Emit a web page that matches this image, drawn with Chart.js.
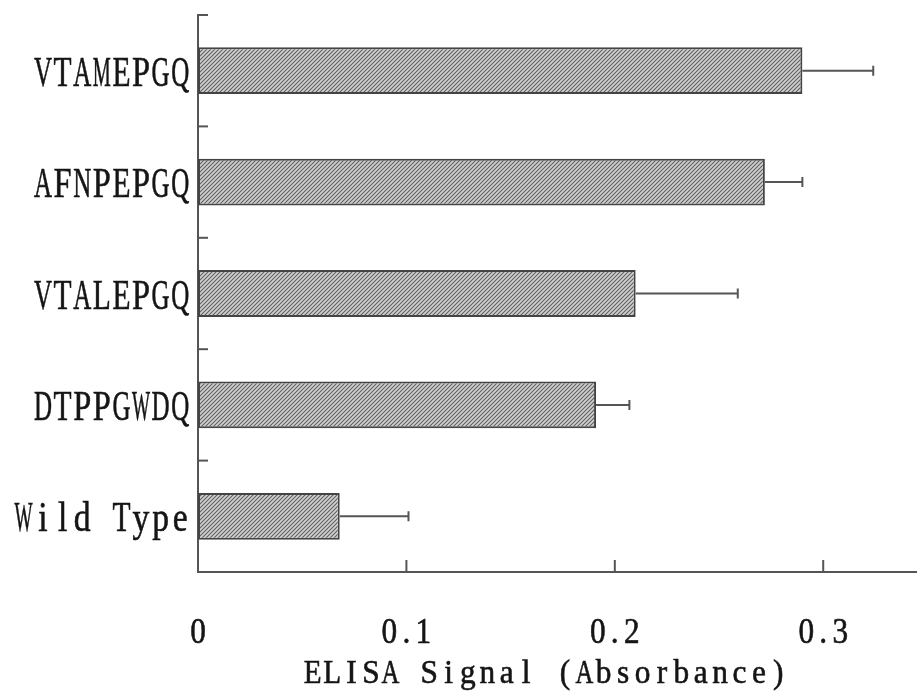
<!DOCTYPE html>
<html>
<head>
<meta charset="utf-8">
<script src="https://cdn.jsdelivr.net/npm/chart.js@4/dist/chart.umd.min.js"></script>
<style>
  html, body { margin: 0; padding: 0; background: #fff; }
  #wrap { width: 917px; height: 694px; }
</style>
</head>
<body>
<div id="wrap"><canvas id="elisaChart"></canvas></div>
<script>
const peptides = ["VTAMEPGQ", "AFNPEPGQ", "VTALEPGQ", "DTPPGWDQ", "Wild Type"];
const signal = [0.290, 0.272, 0.210, 0.191, 0.068];
const signalErr = [0.034, 0.018, 0.049, 0.016, 0.033];
const xTickValues = [0, 0.1, 0.2, 0.3];
const xTickLabels = ["0", "0.1", "0.2", "0.3"];
const axisTitle = "ELISA Signal (Absorbance)";

const axisColor = "#555";
const textColor = "#151515";
const serif = "'Liberation Serif', 'DejaVu Serif', serif";

// hatched fill like the printed figure
const makeHatch = () => {
  const c = document.createElement("canvas");
  c.width = 4; c.height = 4;
  const g = c.getContext("2d");
  g.fillStyle = "#d2d2d2";
  g.fillRect(0, 0, 4, 4);
  g.strokeStyle = "#5e5e5e";
  g.lineWidth = 1.1;
  g.beginPath();
  g.moveTo(0, 4); g.lineTo(4, 0);
  g.moveTo(-1, 1); g.lineTo(1, -1);
  g.moveTo(3, 5); g.lineTo(5, 3);
  g.stroke();
  return g.createPattern(c, "repeat");
};

// fixed-pitch, narrow serif text (the original uses a CJK font's half-width latin)
const drawMono = (ctx, text, x, baseline, align, cell, size, sx) => {
  const total = text.length * cell;
  const start = align === "right" ? x - total : align === "center" ? x - total / 2 : x;
  ctx.font = size + "px " + serif;
  ctx.fillStyle = textColor;
  ctx.strokeStyle = textColor;
  ctx.lineWidth = 0.6;
  ctx.textAlign = "center";
  ctx.textBaseline = "alphabetic";
  [...text].forEach((ch, i) => {
    const w = ctx.measureText(ch).width || 1;
    const k = Math.min(sx, (cell * 0.92) / w);
    ctx.save();
    ctx.translate(start + (i + 0.5) * cell, baseline);
    ctx.scale(k, 1);
    ctx.fillText(ch, 0, 0);
    ctx.strokeText(ch, 0, 0);
    ctx.restore();
  });
};

// inward tick marks, error bars and all texts
const extras = {
  id: "extras",
  afterDatasetsDraw(chart) {
    const { ctx, scales: { x, y } } = chart;
    ctx.save();
    ctx.strokeStyle = axisColor;
    ctx.lineWidth = 2;

    // error bars
    chart.getDatasetMeta(0).data.forEach((bar, i) => {
      const xEnd = x.getPixelForValue(signal[i] + signalErr[i]);
      ctx.beginPath();
      ctx.moveTo(bar.x, bar.y);
      ctx.lineTo(xEnd, bar.y);
      ctx.moveTo(xEnd, bar.y - 5);
      ctx.lineTo(xEnd, bar.y + 5);
      ctx.stroke();
    });

    // category separators on the y axis
    for (let i = 0; i < peptides.length; i++) {
      const py = y.getPixelForValue(i - 0.5);
      ctx.beginPath();
      ctx.moveTo(x.left, py);
      ctx.lineTo(x.left + 10, py);
      ctx.stroke();
    }

    // value ticks on the x axis
    xTickValues.filter(v => v > 0).forEach(v => {
      const px = x.getPixelForValue(v);
      ctx.beginPath();
      ctx.moveTo(px, y.bottom);
      ctx.lineTo(px, y.bottom - 12);
      ctx.stroke();
    });

    // category labels
    peptides.forEach((name, i) => {
      drawMono(ctx, name, x.left - 8, y.getPixelForValue(i) + 15, "right", 19.6, 42, 0.8);
    });

    // value labels
    xTickValues.forEach((v, i) => {
      drawMono(ctx, xTickLabels[i], x.getPixelForValue(v), y.bottom + 71, "center", 17, 35, 0.9);
    });

    // axis title
    drawMono(ctx, axisTitle, (x.left + x.right) / 2 - 12, y.bottom + 111, "center", 19.4, 33, 0.95);
    ctx.restore();
  }
};

new Chart(document.getElementById("elisaChart"), {
  type: "bar",
  data: {
    labels: peptides,
    datasets: [{
      data: signal,
      backgroundColor: makeHatch(),
      borderColor: "#444",
      borderWidth: 2,
      borderSkipped: false,
      barPercentage: 0.42,
      categoryPercentage: 1
    }]
  },
  options: {
    indexAxis: "y",
    responsive: true,
    maintainAspectRatio: false,
    animation: false,
    layout: { padding: { top: 15, left: 12, right: 0, bottom: 0 } },
    plugins: { legend: { display: false }, tooltip: { enabled: false } },
    scales: {
      x: {
        min: 0,
        max: 0.345,
        afterBuildTicks: scale => { scale.ticks = xTickValues.map(v => ({ value: v })); },
        afterFit: scale => { scale.height = 122; },
        ticks: { display: false },
        grid: { display: false, drawTicks: false },
        border: { display: true, color: axisColor, width: 2 }
      },
      y: {
        offset: true,
        afterFit: scale => { scale.width = 186; },
        ticks: { display: false },
        grid: { display: false, drawTicks: false },
        border: { display: true, color: axisColor, width: 2 }
      }
    }
  },
  plugins: [extras]
});
</script>
</body>
</html>
